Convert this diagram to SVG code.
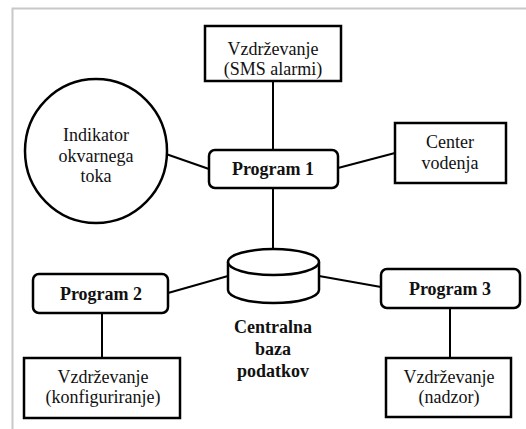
<svg xmlns="http://www.w3.org/2000/svg" width="526" height="429" viewBox="0 0 526 429">
<style>
.frame{fill:none;stroke:#c8c8c8;stroke-width:2}
.box{fill:#fff;stroke:#000;stroke-width:2.5}
.conn line{stroke:#000;stroke-width:2}
text{font-family:"Liberation Serif","Times New Roman",serif;font-size:18px;fill:#111;text-anchor:middle}
.b{font-weight:bold}
</style>
<rect width="526" height="429" fill="#fff"/>
<path class="frame" d="M12.5,429 V8.5 H526"/>
<g class="conn">
<line x1="273" y1="81" x2="273" y2="150"/>
<line x1="166" y1="154" x2="209" y2="169"/>
<line x1="338" y1="168" x2="395" y2="153"/>
<line x1="273" y1="188" x2="273" y2="249"/>
<line x1="168" y1="293" x2="228" y2="276"/>
<line x1="319" y1="276" x2="381" y2="287"/>
<line x1="102" y1="313" x2="102" y2="358"/>
<line x1="450" y1="308" x2="450" y2="358"/>
</g>
<g id="sms">
<rect class="box" x="205" y="26" width="136" height="55"/>
<text x="273" y="55">Vzdrževanje</text>
<text x="273" y="75">(SMS alarmi)</text>
</g>
<g id="indikator">
<ellipse class="box" cx="96" cy="151" rx="71" ry="72"/>
<text x="96" y="141">Indikator</text>
<text x="96" y="162">okvarnega</text>
<text x="96" y="182">toka</text>
</g>
<g id="program1">
<rect class="box" x="209" y="150" width="129" height="38" rx="6"/>
<text class="b" x="273" y="175">Program 1</text>
</g>
<g id="center">
<rect class="box" x="395" y="123" width="111" height="60"/>
<text x="450" y="148">Center</text>
<text x="450" y="169">vodenja</text>
</g>
<g id="baza">
<path class="box" d="M228,262 V290 A45.5,13 0 0 0 319,290 V262"/>
<ellipse class="box" cx="273.5" cy="262" rx="45.5" ry="13"/>
<text class="b" x="273" y="333">Centralna</text>
<text class="b" x="273" y="355">baza</text>
<text class="b" x="273" y="377">podatkov</text>
</g>
<g id="program2">
<rect class="box" x="33" y="274" width="135" height="39" rx="6"/>
<text class="b" x="101" y="300">Program 2</text>
</g>
<g id="program3">
<rect class="box" x="381" y="269" width="139" height="39" rx="6"/>
<text class="b" x="450" y="295">Program 3</text>
</g>
<g id="konfig">
<rect class="box" x="24" y="358" width="156" height="60"/>
<text x="103" y="383">Vzdrževanje</text>
<text x="103" y="403">(konfiguriranje)</text>
</g>
<g id="nadzor">
<rect class="box" x="386" y="358" width="125" height="59"/>
<text x="449" y="383">Vzdrževanje</text>
<text x="449" y="403">(nadzor)</text>
</g>
</svg>
